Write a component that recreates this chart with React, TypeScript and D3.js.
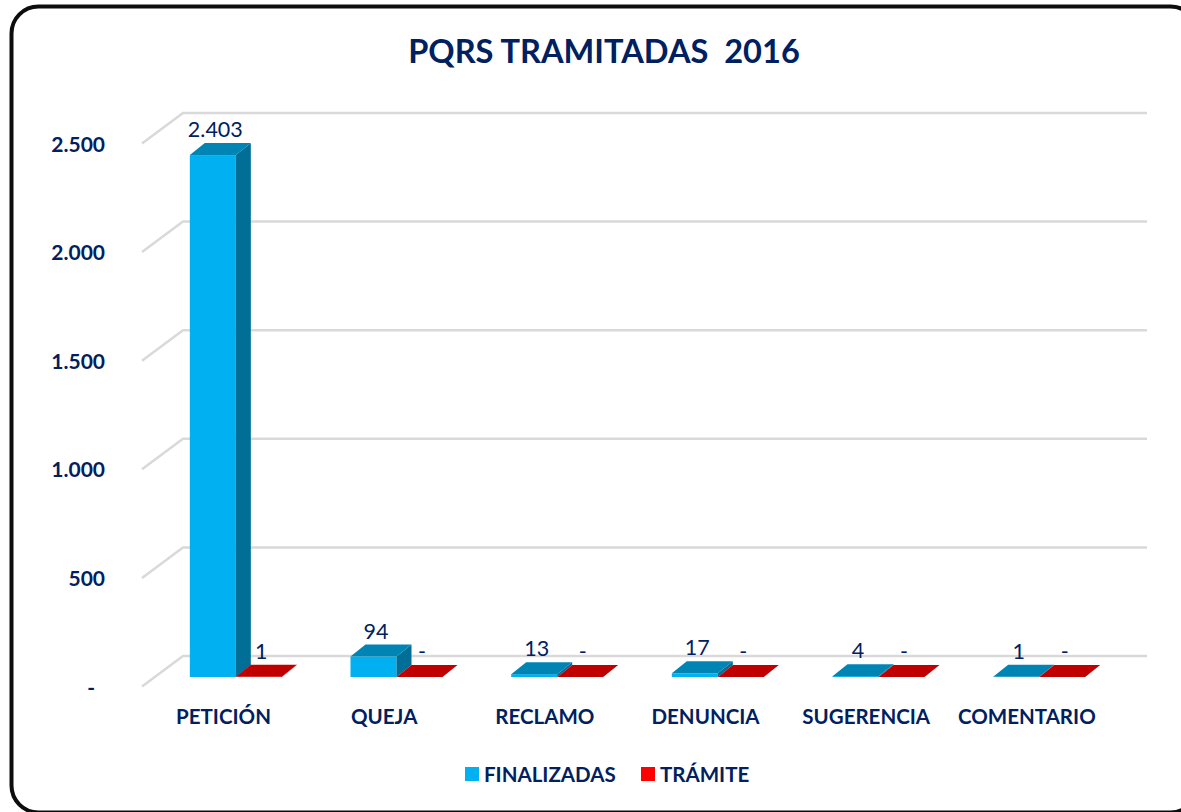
import React from 'react';
import * as d3 from 'd3';

const categories = ['PETICIÓN', 'QUEJA', 'RECLAMO', 'DENUNCIA', 'SUGERENCIA', 'COMENTARIO'];
const finalizadas = [2403, 94, 13, 17, 4, 1];
const tramite = [1, 0, 0, 0, 0, 0];
const yTicks = [0, 500, 1000, 1500, 2000, 2500];
const seriesNames = ['FINALIZADAS', 'TRÁMITE'];

const WIDTH = 1181;
const HEIGHT = 812;
const NAVY = '#002060';
const FONT = 'Lato, "Open Sans", sans-serif';

// 3D offsets: bar depth, and wall offset from the bars' front plane
const depth = { x: 15, y: -12 };
const floorFront = 677;

const palette = [
    { front: '#00B0F0', top: '#0084B4', side: '#006E96' },
    { front: '#FF0000', top: '#C00000', side: '#900000' },
];

const fmt = d3.formatLocale({ decimal: ',', thousands: '.', grouping: [3], currency: ['', ''] }).format(',d');
const label = (v: number) => (v === 0 ? '-' : fmt(v));

const App = () => {
    const y = d3.scaleLinear().domain([0, 2500]).range([floorFront, floorFront - 543]);
    const x = d3.scaleBand().domain(categories).range([144, 1108]);
    // bars sit a little right of the category label
    const inner = d3.scaleBand().domain(seriesNames).range([-34.5, 57.5]);

    const gridLine = d3.line();

    const bar = (cat: string, i: number, s: number, value: number) => {
        const x0 = x(cat)! + x.bandwidth() / 2 + inner(seriesNames[s])!;
        const x1 = x0 + inner.bandwidth();
        const yTop = y(value);
        const colors = palette[s];
        const dx = depth.x;
        const dy = depth.y;
        const topPts: [number, number][] = [[x0, yTop], [x0 + dx, yTop + dy], [x1 + dx, yTop + dy], [x1, yTop]];
        const sidePts: [number, number][] = [[x1, yTop], [x1 + dx, yTop + dy], [x1 + dx, floorFront + dy], [x1, floorFront]];
        return (
            <g key={`${i}-${s}`}>
                <rect x={x0} y={yTop} width={x1 - x0} height={floorFront - yTop} fill={colors.front} />
                <path d={gridLine(sidePts)! + 'Z'} fill={colors.side} />
                <path d={gridLine(topPts)! + 'Z'} fill={colors.top} />
                <text
                    x={x0 + 25.5}
                    y={yTop - 18}
                    textAnchor="middle"
                    fontSize={21.5}
                    fill={NAVY}
                    fontFamily={FONT}
                >
                    {label(value)}
                </text>
            </g>
        );
    };

    return (
        <svg
            width={WIDTH}
            height={HEIGHT}
            viewBox={`0 0 ${WIDTH} ${HEIGHT}`}
            style={{ position: 'absolute', left: 0, top: 0, display: 'block' }}
        >
            <rect width={WIDTH} height={HEIGHT} fill="#fff" />
            <rect x={11.5} y={6.5} width={1186} height={806} rx={27} fill="none" stroke="#0d0d0d" strokeWidth={4} />

            <text
                x={604}
                y={63}
                textAnchor="middle"
                fontSize={32.6}
                fontWeight={700}
                fill={NAVY}
                fontFamily={FONT}
                style={{ whiteSpace: 'pre' }}
            >
                PQRS TRAMITADAS  2016
            </text>

            {/* grid: back wall plus left side wall */}
            {yTicks.map(t => {
                const front = y(t) + 9.5;
                const back = y(t) - 21;
                return (
                    <g key={t}>
                        <path
                            d={gridLine([[142, front], [183, back], [1147, back]])!}
                            fill="none"
                            stroke="#d9d9d9"
                            strokeWidth={2.5}
                        />
                        <text
                            x={t === 0 ? 95 : 105}
                            y={front + 8}
                            textAnchor="end"
                            fontSize={21}
                            fontWeight={700}
                            fill={NAVY}
                            fontFamily={FONT}
                        >
                            {label(t)}
                        </text>
                    </g>
                );
            })}

            {categories.map((c, i) => (
                <g key={c}>
                    {bar(c, i, 0, finalizadas[i])}
                    {bar(c, i, 1, tramite[i])}
                    <text
                        x={x(c)! + x.bandwidth() / 2 - 0.8}
                        y={724}
                        textAnchor="middle"
                        fontSize={20.5}
                        fontWeight={700}
                        fill={NAVY}
                        fontFamily={FONT}
                    >
                        {c}
                    </text>
                </g>
            ))}

            {/* legend */}
            {seriesNames.map((name, i) => (
                <g key={name} transform={`translate(${[465, 641][i]},767)`}>
                    <rect width={14} height={14} fill={palette[i].front} />
                    <text x={19} y={15} fontSize={20.5} fontWeight={700} fill={NAVY} fontFamily={FONT}>
                        {name}
                    </text>
                </g>
            ))}
        </svg>
    );
};

export default App;
